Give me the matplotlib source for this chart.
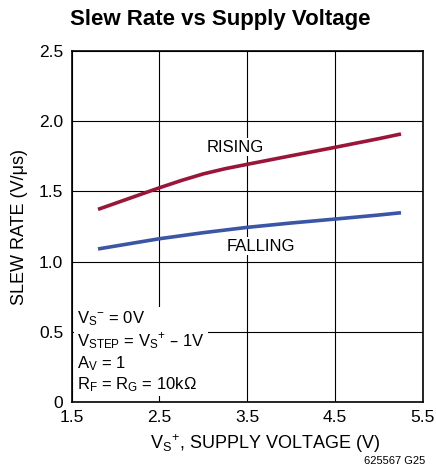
import matplotlib.pyplot as plt
import numpy as np

# supply voltage (V) and slew rate (V/us)
vs_rising = [1.8, 2.0, 2.5, 2.75, 3.0, 3.25, 3.5, 4.0, 4.5, 5.0, 5.25]
rising = [1.372, 1.416, 1.526, 1.578, 1.625, 1.662, 1.693, 1.754, 1.814, 1.876, 1.909]
vs_falling = [1.8, 2.0, 2.5, 3.0, 3.5, 4.0, 4.5, 5.0, 5.25]
falling = [1.09, 1.111, 1.163, 1.206, 1.244, 1.275, 1.303, 1.332, 1.348]

xticks = [1.5, 2.5, 3.5, 4.5, 5.5]
yticks = [0, 0.5, 1.0, 1.5, 2.0, 2.5]
ytick_labels = ['0', '0.5', '1.0', '1.5', '2.0', '2.5']

plt.rcParams['font.family'] = ['Liberation Sans Narrow', 'Liberation Sans', 'DejaVu Sans']

fig = plt.figure(figsize=(4.36, 4.71), dpi=100)
ax = fig.add_axes([0.1644, 0.1465, 0.8056, 0.7452])

ax.plot(vs_rising, rising, color='#9b1538', lw=2.6, solid_capstyle='butt', zorder=3)
ax.plot(vs_falling, falling, color='#3a56a5', lw=2.6, solid_capstyle='butt', zorder=3)

ax.set_xlim(1.5, 5.5)
ax.set_ylim(0, 2.5)
ax.set_xticks(xticks)
ax.set_yticks(yticks)
ax.set_yticklabels(ytick_labels)
ax.tick_params(length=0, labelsize=12.5, pad=6)
ax.grid(True, color='black', lw=0.8)
for s in ax.spines.values():
    s.set_linewidth(1.2)

ax.text(3.36, 1.816, 'RISING', fontsize=12, ha='center', va='center',
        bbox=dict(facecolor='white', edgecolor='none', pad=1), zorder=4)
ax.text(3.66, 1.11, 'FALLING', fontsize=12, ha='center', va='center',
        bbox=dict(facecolor='white', edgecolor='none', pad=1), zorder=4)

note = ('$\\mathregular{V_S}^{\\mathregular{-}}$ = 0V\n'
        '$\\mathregular{V_{STEP}}$ = $\\mathregular{V_S}^{\\mathregular{+}}$ \u2013 1V\n'
        '$\\mathregular{A_V}$ = 1\n'
        '$\\mathregular{R_F}$ = $\\mathregular{R_G}$ = 10k\u03a9')
ax.text(1.56, 0.06, note, fontsize=12, ha='left', va='bottom', linespacing=1.15,
        bbox=dict(facecolor='white', edgecolor='none', pad=2), zorder=4)

ax.set_xlabel('$\\mathregular{V_S}^{\\mathregular{+}}$, SUPPLY VOLTAGE (V)', fontsize=13, labelpad=4)
ax.xaxis.set_label_coords(0.55, -0.085)
ax.set_ylabel('SLEW RATE (V/\u03bcs)', fontsize=13, labelpad=8)

fig.text(0.16, 0.958, 'Slew Rate vs Supply Voltage', fontsize=16, fontweight='bold',
         ha='left', va='center')
fig.text(0.975, 0.022, '625567 G25', fontsize=8, ha='right', va='center')

fig.savefig('out.png', dpi=100)
